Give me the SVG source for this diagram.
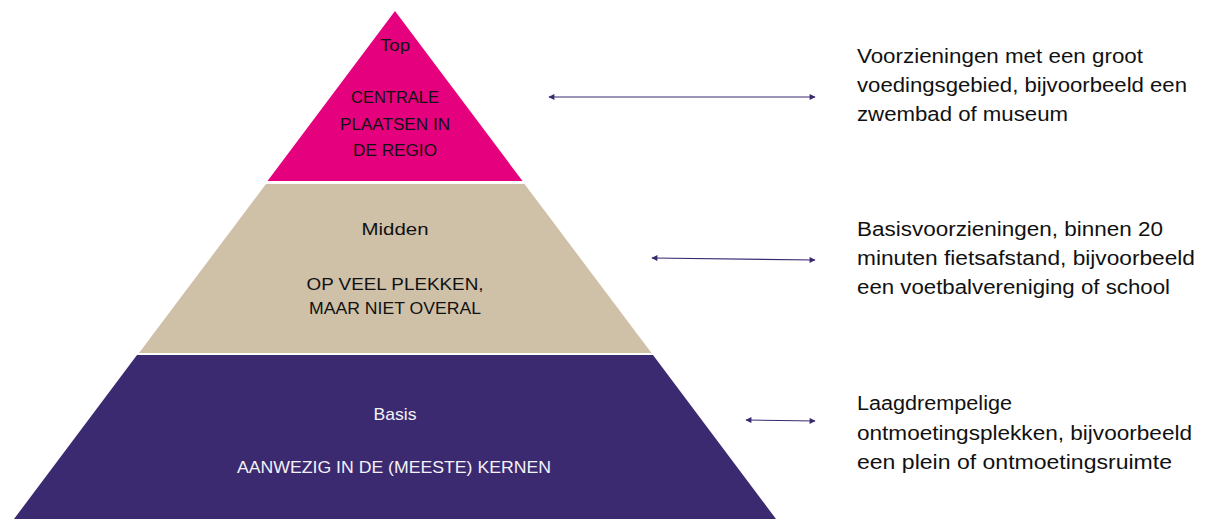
<svg xmlns="http://www.w3.org/2000/svg" width="1205" height="519" viewBox="0 0 1205 519">
<style>
.lbl{font-family:"Liberation Sans",Arial,sans-serif;font-size:17px;text-anchor:middle}
.dark{fill:#111}
.light{fill:#f4f2f8}
.desc{font-family:"Liberation Sans",Arial,sans-serif;font-size:20px;fill:#111}
.conn{stroke:#3b2a70;stroke-width:1.2;fill:none;marker-start:url(#ah);marker-end:url(#ah)}
</style>
<defs>
<marker id="ah" viewBox="0 0 10 10" refX="9" refY="5" markerWidth="8" markerHeight="6" orient="auto-start-reverse" markerUnits="userSpaceOnUse">
<path d="M0,0 L10,5 L0,10 Z" fill="#3b2a70"/>
</marker>
</defs>
<rect width="1205" height="519" fill="#ffffff"/>
<g id="top">
<polygon points="395,11 522.5,181 267.5,181" fill="#e5007d"/>
<text class="lbl dark" x="395" y="51" textLength="30" lengthAdjust="spacingAndGlyphs">Top</text>
<text class="lbl dark" x="395" y="103" textLength="88" lengthAdjust="spacingAndGlyphs">CENTRALE</text>
<text class="lbl dark" x="395" y="130" textLength="110" lengthAdjust="spacingAndGlyphs">PLAATSEN IN</text>
<text class="lbl dark" x="395" y="156" textLength="84" lengthAdjust="spacingAndGlyphs">DE REGIO</text>
</g>
<g id="midden">
<polygon points="266,184 524.5,184 651.5,353 139,353" fill="#cfc0a8"/>
<text class="lbl dark" x="395" y="235" textLength="67" lengthAdjust="spacingAndGlyphs">Midden</text>
<text class="lbl dark" x="395" y="290" textLength="177" lengthAdjust="spacingAndGlyphs">OP VEEL PLEKKEN,</text>
<text class="lbl dark" x="395" y="314" textLength="172" lengthAdjust="spacingAndGlyphs">MAAR NIET OVERAL</text>
</g>
<g id="basis">
<polygon points="137,355 653,355 776,519 14,519" fill="#3b2a70"/>
<text class="lbl light" x="395" y="420" textLength="43" lengthAdjust="spacingAndGlyphs">Basis</text>
<text class="lbl light" x="394" y="473" textLength="314" lengthAdjust="spacingAndGlyphs">AANWEZIG IN DE (MEESTE) KERNEN</text>
</g>
<g id="desc-top">
<text class="desc" x="857" y="63" textLength="286" lengthAdjust="spacingAndGlyphs">Voorzieningen met een groot</text>
<text class="desc" x="857" y="92" textLength="330" lengthAdjust="spacingAndGlyphs">voedingsgebied, bijvoorbeeld een</text>
<text class="desc" x="857" y="121" textLength="211" lengthAdjust="spacingAndGlyphs">zwembad of museum</text>
</g>
<g id="desc-midden">
<text class="desc" x="857" y="236" textLength="306" lengthAdjust="spacingAndGlyphs">Basisvoorzieningen, binnen 20</text>
<text class="desc" x="857" y="265" textLength="338" lengthAdjust="spacingAndGlyphs">minuten fietsafstand, bijvoorbeeld</text>
<text class="desc" x="857" y="294" textLength="313" lengthAdjust="spacingAndGlyphs">een voetbalvereniging of school</text>
</g>
<g id="desc-basis">
<text class="desc" x="857" y="410" textLength="155" lengthAdjust="spacingAndGlyphs">Laagdrempelige</text>
<text class="desc" x="857" y="440" textLength="335" lengthAdjust="spacingAndGlyphs">ontmoetingsplekken, bijvoorbeeld</text>
<text class="desc" x="857" y="469" textLength="315" lengthAdjust="spacingAndGlyphs">een plein of ontmoetingsruimte</text>
</g>
<g id="connectors">
<line class="conn" x1="549" y1="97" x2="815" y2="97"/>
<line class="conn" x1="652" y1="258" x2="815" y2="260"/>
<line class="conn" x1="746" y1="420" x2="815" y2="421"/>
</g>
</svg>
